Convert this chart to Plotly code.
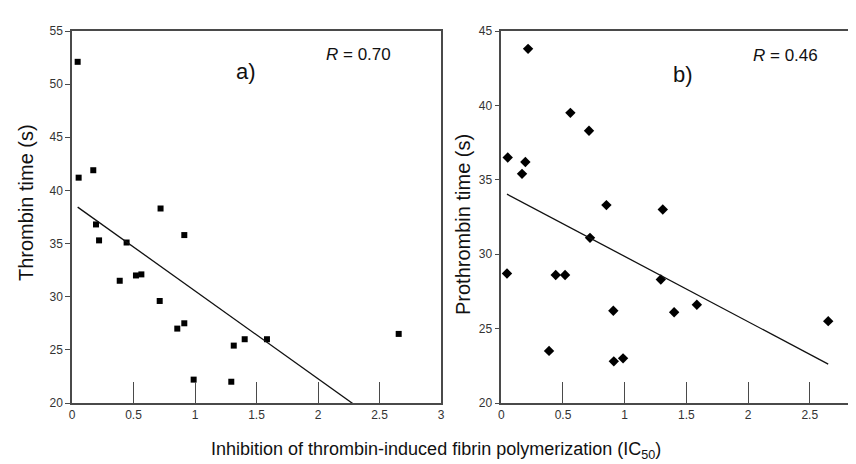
import numpy as np
import plotly.graph_objects as go
from plotly.subplots import make_subplots

# ---- data ----
ic50_a = [0.046, 0.054, 0.173, 0.72, 0.195, 0.22, 0.444, 0.913, 0.388, 0.52,
          0.564, 0.713, 0.856, 0.913, 1.315, 1.404, 1.585, 2.656, 0.989, 1.295]
thrombin_time = [52.1, 41.2, 41.9, 38.3, 36.8, 35.3, 35.1, 35.8, 31.5, 32.0,
                 32.1, 29.6, 27.0, 27.5, 25.4, 26.0, 26.0, 26.5, 22.2, 22.0]

ic50_b = [0.217, 0.56, 0.711, 0.052, 0.195, 0.168, 0.852, 1.309, 0.719, 0.046,
          0.441, 0.517, 1.293, 0.908, 1.401, 1.585, 2.65, 0.387, 0.912, 0.987]
prothrombin_time = [43.8, 39.5, 38.3, 36.5, 36.2, 35.4, 33.3, 33.0, 31.1, 28.7,
                    28.6, 28.6, 28.3, 26.2, 26.1, 26.6, 25.5, 23.5, 22.8, 23.0]

x_ticks_a = [0, 0.5, 1, 1.5, 2, 2.5, 3]
x_ticks_b = [0, 0.5, 1, 1.5, 2, 2.5]
y_ticks_a = [20, 25, 30, 35, 40, 45, 50, 55]
y_ticks_b = [20, 25, 30, 35, 40, 45]

panel_labels = ["a)", "b)"]
r_labels = ["<i>R</i> = 0.70", "<i>R</i> = 0.46"]
y_titles = ["Thrombin time (s)", "Prothrombin time (s)"]
x_title = "Inhibition of thrombin-induced fibrin polymerization (IC<sub>50</sub>)"

FONT = "Liberation Sans, Arial, Helvetica, sans-serif"
AX = "#4a4a4a"


def fit_line(x, y):
    x = np.asarray(x, float)
    y = np.asarray(y, float)
    m, b = np.polyfit(x, y, 1)
    xs = np.array([x.min(), x.max()])
    return xs, m * xs + b


fig = make_subplots(rows=1, cols=2)

fig.add_trace(go.Scatter(x=ic50_a, y=thrombin_time, mode="markers",
                         marker=dict(symbol="square", size=6, color="black"),
                         showlegend=False), row=1, col=1)
lx, ly = fit_line(ic50_a, thrombin_time)
fig.add_trace(go.Scatter(x=lx, y=ly, mode="lines",
                         line=dict(color="#111", width=1.3),
                         showlegend=False), row=1, col=1)

fig.add_trace(go.Scatter(x=ic50_b, y=prothrombin_time, mode="markers",
                         marker=dict(symbol="diamond", size=8, color="black"),
                         showlegend=False), row=1, col=2)
lx, ly = fit_line(ic50_b, prothrombin_time)
fig.add_trace(go.Scatter(x=lx, y=ly, mode="lines",
                         line=dict(color="#111", width=1.3),
                         showlegend=False), row=1, col=2)

W, H = 856, 464
ydom = [(464 - 395) / H, (464 - 23) / H]

common_x = dict(showgrid=False, zeroline=False, showline=True, linecolor=AX,
                linewidth=1.5, mirror=True, ticks="inside", ticklen=21,
                tickwidth=1.3, tickcolor=AX, automargin=False,
                tickfont=dict(family=FONT, size=12, color="#333"))
common_y = dict(showgrid=False, zeroline=False, showline=True, linecolor=AX,
                linewidth=1.5, ticks="outside", ticklen=5, tickwidth=1.3,
                tickcolor=AX, automargin=False,
                tickfont=dict(family=FONT, size=12, color="#333"))

fig.update_xaxes(common_x, row=1, col=1, range=[0, 3], tickvals=x_ticks_a,
                 ticktext=[f"{v:g}" for v in x_ticks_a],
                 domain=[64 / W, 433 / W])
fig.update_xaxes(common_x, row=1, col=2, range=[0, 2.94], tickvals=x_ticks_b,
                 ticktext=[f"{v:g}" for v in x_ticks_b],
                 domain=[493.3 / W, 1.0])
fig.update_yaxes(common_y, row=1, col=1, range=[20, 55], tickvals=y_ticks_a,
                 mirror=True, domain=ydom)
fig.update_yaxes(common_y, row=1, col=2, range=[20, 45], tickvals=y_ticks_b,
                 mirror=False, domain=ydom)


def px_ann(cx, cy, text, size, angle=0):
    return dict(x=cx / W, y=1 - cy / H, xref="paper", yref="paper",
                xanchor="center", yanchor="middle", text=text,
                textangle=angle, showarrow=False,
                font=dict(family=FONT, size=size, color="#111"))


ann = []
for i, (lab, rl) in enumerate(zip(panel_labels, r_labels)):
    ann.append(px_ann([238, 675][i], [63, 67][i], lab, 22))
    ann.append(px_ann([350, 777][i], [47, 48][i], rl, 17))
for i, t in enumerate(y_titles):
    ann.append(px_ann([18, 455][i], [195, 217][i], t, 20, angle=-90))
ann.append(px_ann(428, 442, x_title, 18))

fig.update_layout(width=W, height=H, margin=dict(l=0, r=0, t=0, b=0),
                  paper_bgcolor="white", plot_bgcolor="white",
                  annotations=ann, showlegend=False)

fig.write_html("out.html")
